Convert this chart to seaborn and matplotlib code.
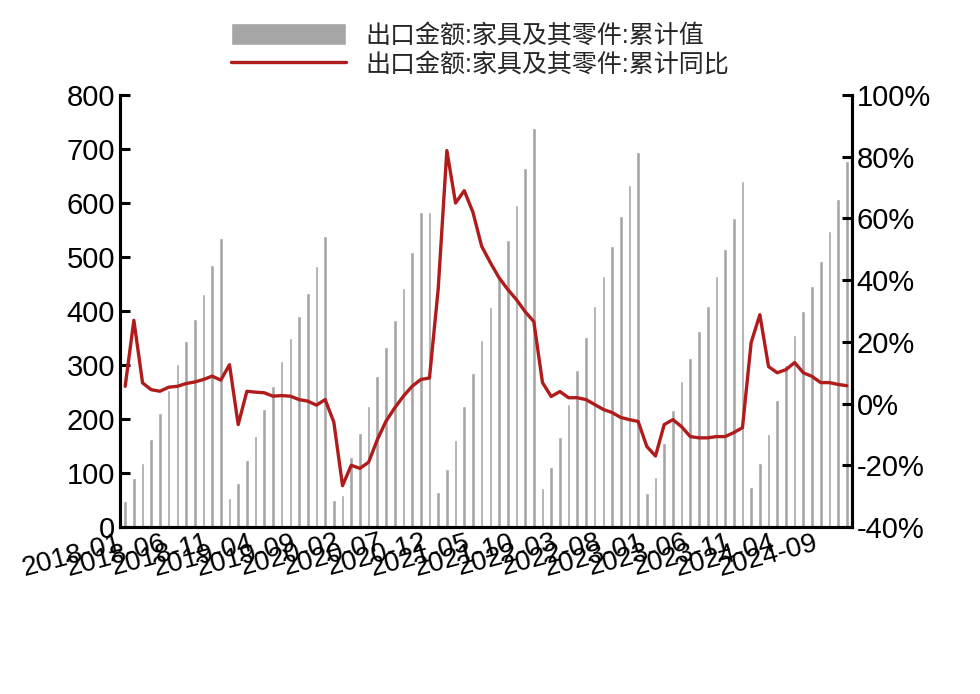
import seaborn as sns
import matplotlib.pyplot as plt
import pandas as pd

months = pd.date_range("2018-01", "2024-12", freq="MS").strftime("%Y-%m").tolist()

# 累计值 per month
cum_value = [
    48, 90, 118, 163, 211, 253, 301, 344, 386, 432, 486, 536,
    53, 81, 124, 168, 218, 262, 308, 350, 391, 434, 483, 539,
    50, 59, 130, 174, 224, 279, 333, 384, 443, 509, 583, 583,
    65, 108, 161, 224, 286, 347, 408, 465, 532, 597, 664, 738,
    73, 111, 167, 228, 290, 352, 410, 464, 520, 576, 634, 695,
    63, 93, 156, 216, 270, 313, 363, 410, 464, 514, 573, 641,
    75, 118, 173, 236, 300, 355, 400, 447, 493, 549, 608, 678,
]

# 累计同比 (%)
cum_yoy = [
    5.6, 27, 6.7, 4.5, 4.0, 5.3, 5.6, 6.5, 7.0, 7.8, 8.9, 7.6,
    12.6, -6.8, 4.0, 3.7, 3.5, 2.4, 2.6, 2.4, 1.3, 0.8, -0.5, 1.3,
    -6, -26.6, -20, -21, -19, -11.7, -5.7, -1.4, 2.4, 5.6, 7.8, 8.3,
    37, 82, 65, 69, 62, 51, 45.7, 40.8, 37, 33.7, 29.8, 26.6,
    6.8, 2.3, 3.9, 1.9, 1.9, 1.3, -0.3, -1.9, -2.9, -4.5, -5.2, -5.8,
    -13.9, -17, -6.8, -5.2, -7.5, -10.7, -11.1, -11.1, -10.7, -10.7, -9.4, -7.8,
    19.8, 28.8, 12, 10, 11, 13.3, 10, 8.8, 6.8, 6.8, 6.2, 5.8,
]

label_bar = "出口金额:家具及其零件:累计值"
label_line = "出口金额:家具及其零件:累计同比"

sns.set_style("white")
plt.rcParams["font.family"] = ["Liberation Sans", "Noto Sans CJK SC", "DejaVu Sans"]

df = pd.DataFrame({"month": months, "idx": range(len(months)),
                   "value": cum_value, "yoy": cum_yoy})

fig = plt.figure(figsize=(9.8, 6.94), dpi=100)
ax = fig.add_axes([0.1224, 0.2406, 0.747, 0.6225])
sns.barplot(data=df, x="idx", y="value", color="#a6a6a6", width=0.42,
            saturation=1, ax=ax, label=label_bar, legend=False)
ax2 = ax.twinx()
sns.lineplot(data=df, x="idx", y="yoy", color="#b01c1c", linewidth=2.4,
             ax=ax2, label=label_line)

ax.set_xlim(-0.6, len(months) - 0.4)
ax.set_ylim(0, 800)
ax.set_yticks(range(0, 801, 100))
ax2.set_ylim(-40, 100)
ax2.set_yticks(range(-40, 101, 20))
ax2.set_yticklabels([f"{v}%" for v in range(-40, 101, 20)])
ticks = list(range(0, len(months), 5))
ax.set_xticks(ticks)
ax.set_xticklabels([months[i] for i in ticks], rotation=15, ha="right")
ax.set_xlabel("")
ax.set_ylabel("")
ax2.set_ylabel("")

for a in (ax, ax2):
    a.tick_params(labelsize=21, direction="in", length=7, width=2.2, colors="black")
    for s in a.spines.values():
        s.set_linewidth(2.2)
        s.set_color("black")
ax.tick_params(axis="x", labelsize=20, pad=2)
ax.spines["top"].set_visible(False)
ax2.spines["top"].set_visible(False)

if ax.get_legend():
    ax.get_legend().remove()
ax2.get_legend().remove()
h1, l1 = ax.get_legend_handles_labels()
h2, l2 = ax2.get_legend_handles_labels()
fig.legend(h1[:1] + h2, l1[:1] + l2, loc="upper center", bbox_to_anchor=(0.49, 1.0),
           frameon=False, fontsize=18, handlelength=4.6, handleheight=1.0,
           labelspacing=0.2)

fig.savefig("out.png", dpi=100)
